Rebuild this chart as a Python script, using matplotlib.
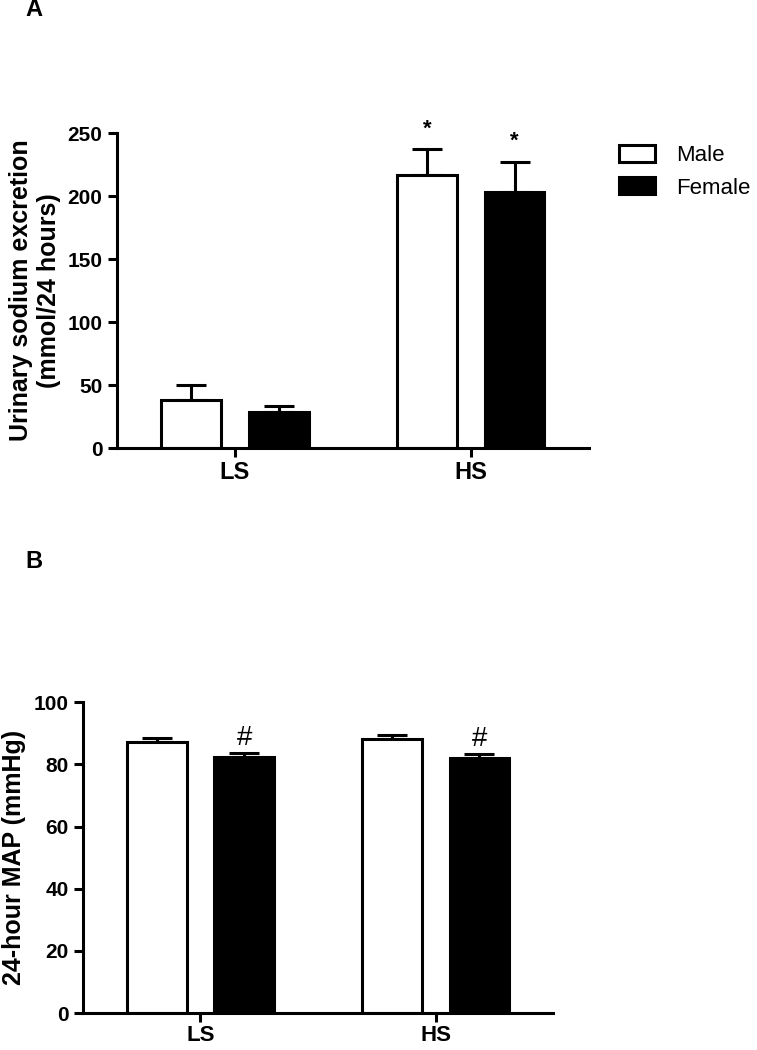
import matplotlib
matplotlib.use('Agg')
from matplotlib import pyplot as plt
from matplotlib.patches import Patch
import numpy as np

plt.rcParams['font.family'] = ['Liberation Sans', 'DejaVu Sans']

groups = ['LS', 'HS']
sex = ['Male', 'Female']

# panel A: urinary sodium excretion (mmol/24 hours)
na_male = [38, 217]
na_male_err = [12, 20]
na_female = [28.5, 203]
na_female_err = [5, 24]
na_marks_male = ['', '*']
na_marks_female = ['', '*']

# panel B: 24-hour MAP (mmHg)
map_male = [87.3, 88.2]
map_male_err = [1.2, 1.2]
map_female = [82.4, 82.1]
map_female_err = [1.3, 1.3]
map_marks_male = ['', '']
map_marks_female = ['#', '#']

LW = 2.2
x = np.arange(len(groups))
off = 0.186
w = 0.253


def draw_panel(ax, male, male_err, female, female_err, marks_m, marks_f,
               ylim, yticks, ylabel, mark_kw, mark_gap, xfs=17, xpad=3):
    ax.bar(x - off, male, w, color='white', edgecolor='black', linewidth=LW, zorder=2)
    ax.bar(x + off, female, w, color='black', edgecolor='black', linewidth=LW, zorder=2)
    for xs, vals, errs in [(x - off, male, male_err), (x + off, female, female_err)]:
        ax.errorbar(xs, vals, yerr=[np.zeros(len(vals)), errs], fmt='none',
                    ecolor='black', elinewidth=LW, capsize=10.5, capthick=LW, zorder=1)
    for xs, vals, errs, marks in [(x - off, male, male_err, marks_m),
                                  (x + off, female, female_err, marks_f)]:
        for xi, v, e, m in zip(xs, vals, errs, marks):
            if m:
                ax.text(xi, v + e + mark_gap, m, ha='center', va='bottom', **mark_kw)
    ax.set_xlim(-0.5, 1.5)
    ax.set_ylim(*ylim)
    ax.set_yticks(yticks)
    ax.set_xticks(x)
    ax.set_xticklabels(groups, fontsize=xfs, fontweight='bold')
    for lab in ax.get_yticklabels():
        lab.set_fontsize(15)
        lab.set_fontweight('bold')
    ax.set_ylabel(ylabel, fontsize=18, fontweight='bold', labelpad=5)
    ax.spines['top'].set_visible(False)
    ax.spines['right'].set_visible(False)
    ax.spines['left'].set_linewidth(LW)
    ax.spines['bottom'].set_linewidth(LW)
    ax.tick_params(axis='both', direction='out', length=6.5, width=LW)
    ax.tick_params(axis='y', pad=4)
    ax.tick_params(axis='x', pad=xpad)


fig = plt.figure(figsize=(7.57, 10.5), dpi=100)

ax1 = fig.add_axes([0.1546, 0.5733, 0.623, 0.300])
draw_panel(ax1, na_male, na_male_err, na_female, na_female_err,
           na_marks_male, na_marks_female, (0, 250), np.arange(0, 251, 50),
           'Urinary sodium excretion\n(mmol/24 hours)',
           dict(fontsize=16, fontweight='bold'), 8)

ax2 = fig.add_axes([0.1096, 0.0352, 0.621, 0.296])
draw_panel(ax2, map_male, map_male_err, map_female, map_female_err,
           map_marks_male, map_marks_female, (0, 100), np.arange(0, 101, 20),
           '24-hour MAP (mmHg)',
           dict(fontsize=20), 0.6, xfs=16, xpad=2)

handles = [Patch(facecolor='white', edgecolor='black', linewidth=LW, label='Male'),
           Patch(facecolor='black', edgecolor='black', linewidth=LW, label='Female')]
fig.legend(handles=handles, loc='upper left', bbox_to_anchor=(619 / 757, 1 - 145 / 1050),
           frameon=False, fontsize=16, handlelength=1.6, handleheight=0.8,
           handletextpad=0.95, labelspacing=0.5, borderpad=0, borderaxespad=0)

fig.text(25 / 757, 1 - 10 / 1050, 'A', fontsize=17, fontweight='bold', va='center')
fig.text(25 / 757, 1 - 562 / 1050, 'B', fontsize=17, fontweight='bold', va='center')

fig.savefig('out.png', dpi=100)
